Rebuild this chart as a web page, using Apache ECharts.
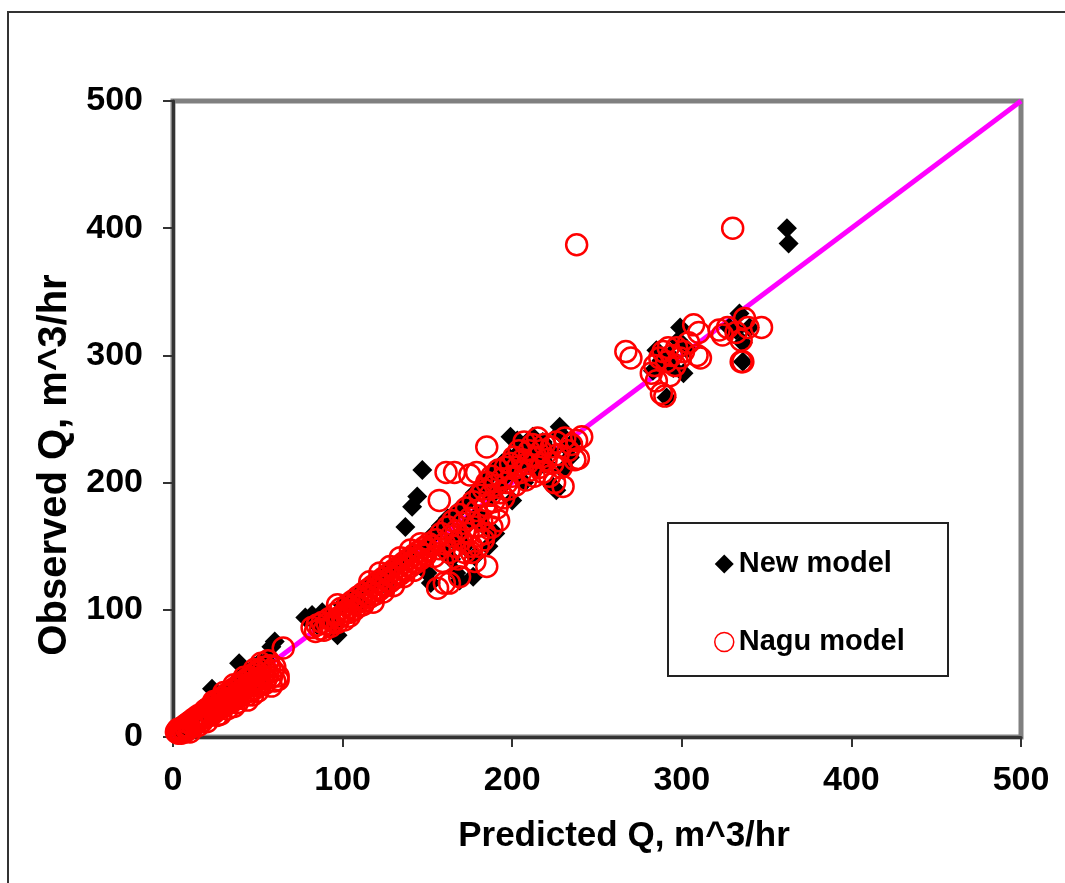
<!DOCTYPE html>
<html>
<head>
<meta charset="utf-8">
<title>Observed vs Predicted Q</title>
<script src="https://cdn.jsdelivr.net/npm/echarts@6/dist/echarts.min.js"></script>
<style>
    html, body { margin: 0; padding: 0; background: #fff; }
    #main { width: 1065px; height: 883px; }
</style>
</head>
<body>
<div id="main"></div>
<script>
// axis ticks
var axisTicks = [0, 100, 200, 300, 400, 500];

// perfect fit line (predicted = observed)
var fitLine = [[0, 0], [500, 500]];

// New model points [predicted, observed]
var newModelLow = [
    [3, 5], [5, 7], [7, 9], [9, 12], [11, 14], [13, 16], [15, 19], [17, 21], [19, 23], [21, 25],
    [23, 38], [24, 28], [26, 31], [28, 33], [30, 35], [32, 37], [34, 39], [36, 42], [38, 44], [39, 58],
    [40, 46], [42, 48], [44, 50], [46, 52], [48, 55], [50, 57], [52, 58], [55, 60], [58, 71], [60, 75],
    [10, 8], [20, 18], [30, 27], [40, 36], [50, 45]
];
var newModelMid = [
    [78, 94], [82, 96], [85, 88], [88, 98], [92, 90], [97, 80], [100, 104], [104, 108], [108, 112], [112, 116],
    [116, 120], [120, 124], [124, 128], [128, 132], [132, 136], [136, 140], [140, 144], [95, 86], [110, 104], [125, 120],
    [137, 165], [141, 181], [144, 189], [147, 210], [150, 129], [152, 121], [167, 129], [169, 123], [177, 126]
];
var newModelHigh = [
    [150, 150], [154, 160], [158, 166], [160, 145], [162, 172], [165, 155], [168, 178], [170, 160], [172, 150], [174, 185],
    [176, 170], [178, 192], [180, 175], [182, 198], [184, 165], [186, 204], [188, 190], [190, 210], [192, 195], [194, 215],
    [196, 205], [198, 220], [199, 236], [200, 186], [202, 212], [203, 233], [205, 225], [207, 200], [209, 218], [211, 228],
    [212, 236], [214, 210], [216, 222], [218, 232], [220, 215], [222, 225], [224, 197], [226, 194], [228, 239], [228, 244],
    [230, 210], [232, 228], [234, 220], [236, 232], [178, 142], [186, 150], [190, 160], [164, 140],
    [283, 288], [285, 304], [288, 296], [291, 267], [293, 300], [295, 290], [298, 312], [299, 322], [301, 286], [303, 305],
    [328, 322], [332, 320], [334, 333], [336, 310], [336, 295], [340, 322], [362, 400], [363, 388]
];

// Nagu model points [predicted, observed]
var naguModelLow = [
    [2, 4], [3, 3], [3, 6], [4, 4], [5, 3], [5, 7], [6, 5], [7, 4], [7, 9], [8, 6],
    [9, 8], [9, 11], [10, 7], [11, 10], [11, 13], [12, 9], [13, 12], [13, 15], [14, 11], [15, 13],
    [15, 17], [16, 14], [17, 12], [17, 18], [18, 15], [19, 17], [19, 21], [20, 16], [21, 19], [21, 23],
    [22, 18], [23, 21], [23, 25], [24, 19], [25, 22], [25, 27], [26, 21], [27, 24], [27, 29], [28, 23],
    [29, 26], [29, 31], [30, 24], [31, 28], [31, 33], [32, 26], [33, 30], [33, 35], [34, 28], [35, 31],
    [35, 37], [36, 29], [37, 33], [37, 39], [38, 31], [39, 35], [39, 41], [40, 33], [41, 37], [41, 43],
    [42, 34], [43, 39], [43, 45], [44, 29], [45, 40], [45, 47], [46, 36], [47, 42], [47, 49], [48, 38],
    [49, 44], [49, 51], [50, 40], [51, 46], [51, 53], [52, 42], [53, 48], [54, 55], [55, 46], [56, 50],
    [57, 56], [58, 47], [59, 52], [60, 44], [62, 48], [65, 70],
    [10, 4], [15, 9], [20, 12], [26, 17], [28, 18], [32, 22], [36, 24], [38, 27], [44, 33], [47, 33],
    [50, 36], [54, 42], [58, 40], [62, 45], [24, 28], [30, 35], [36, 41], [42, 47], [48, 53], [52, 58],
    [56, 60], [60, 55]
];
var naguModelMid = [
    [82, 86], [84, 83], [85, 88], [87, 85], [88, 90], [89, 84], [91, 89], [92, 93], [93, 87], [95, 91],
    [96, 97], [97, 90], [98, 94], [99, 101], [100, 96], [101, 92], [102, 99], [103, 104], [104, 98], [105, 102],
    [106, 107], [107, 100], [108, 105], [109, 110], [110, 103], [111, 108], [112, 113], [113, 107], [114, 111], [115, 116],
    [116, 110], [117, 114], [118, 119], [119, 112], [120, 117], [121, 122], [122, 116], [123, 120], [124, 125], [125, 119],
    [126, 123], [127, 128], [128, 122], [129, 126], [130, 131], [131, 125], [132, 129], [133, 134], [134, 128], [135, 132],
    [136, 137], [137, 131], [138, 135], [139, 140], [140, 134], [141, 138], [142, 143], [143, 137], [144, 141], [145, 146],
    [146, 140], [147, 144], [148, 149], [149, 143], [150, 147], [151, 152], [97, 104], [104, 95], [112, 104], [118, 106],
    [124, 114], [130, 119], [136, 126], [142, 131], [116, 122], [122, 129], [128, 134], [134, 141], [140, 147], [146, 152]
];
var naguModelHigh = [
    [152, 150], [154, 142], [155, 155], [156, 117], [157, 148], [157, 186], [158, 160], [159, 138], [160, 152], [160, 121],
    [161, 208], [162, 165], [163, 145], [163, 121], [164, 158], [165, 170], [166, 150], [166, 208], [167, 162], [168, 140],
    [169, 126], [169, 175], [170, 155], [171, 168], [172, 145], [173, 180], [174, 160], [175, 172], [175, 206], [176, 150],
    [177, 185], [178, 165], [178, 138], [179, 208], [179, 178], [180, 158], [181, 190], [182, 170], [183, 155], [183, 195],
    [184, 182], [185, 134], [185, 228], [185, 200], [186, 175], [187, 190], [188, 205], [189, 185], [190, 198], [191, 180],
    [192, 210], [193, 192], [194, 203], [195, 188], [196, 212], [197, 200], [198, 195], [199, 215], [200, 205], [201, 220],
    [202, 198], [203, 212], [204, 225], [205, 208], [206, 218], [207, 232], [208, 202], [209, 215], [210, 225], [211, 210],
    [212, 230], [213, 205], [214, 220], [215, 235], [216, 212], [217, 225], [218, 208], [219, 230], [220, 218], [222, 205],
    [223, 228], [224, 215], [225, 200], [226, 232], [227, 222], [229, 212], [230, 197], [231, 235], [233, 225], [235, 230],
    [237, 218], [238, 233], [239, 219], [241, 236], [176, 145], [180, 150], [184, 160], [188, 165], [192, 170],
    [238, 387], [330, 400], [267, 303], [270, 298], [282, 286], [284, 292], [285, 280], [287, 298], [288, 270], [289, 303],
    [290, 268], [291, 295], [292, 306], [293, 284], [294, 300], [296, 292], [297, 306], [299, 298], [301, 303], [304, 310],
    [307, 324], [309, 300], [310, 318], [311, 298], [322, 320], [324, 316], [327, 322], [332, 318], [335, 312], [335, 295],
    [336, 295], [337, 329], [339, 322], [347, 322]
];

var newModel = newModelLow.concat(newModelMid, newModelHigh);
var naguModel = naguModelLow.concat(naguModelMid, naguModelHigh);

var font = '"Liberation Sans", Arial, sans-serif';

var chart = echarts.init(document.getElementById('main'));

var option = {
    animation: false,
    backgroundColor: '#fff',
    textStyle: { fontFamily: font },
    grid: {
        left: 173, right: 44, top: 101, bottom: 146,
        show: true,
        borderColor: '#808080',
        borderWidth: 5
    },
    graphic: [
        {   // outer frame
            type: 'rect', z: 0,
            shape: { x: 8, y: 12, width: 1200, height: 1000 },
            style: { fill: 'none', stroke: '#333', lineWidth: 2 }
        },
        {   // legend box
            type: 'rect', z: 3,
            shape: { x: 668, y: 523, width: 280, height: 153 },
            style: { fill: '#fff', stroke: '#222', lineWidth: 2 }
        }
    ],
    legend: {
        orient: 'vertical',
        left: 709, top: 544,
        itemWidth: 19, itemHeight: 19,
        itemGap: 48,
        z: 5,
        textStyle: { fontSize: 29, fontWeight: 'bold', color: '#000', lineHeight: 30, fontFamily: font },
        data: [
            { name: 'New model', icon: 'diamond' },
            { name: 'Nagu model', icon: 'circle', itemStyle: { color: '#fff', borderColor: '#ff0000', borderWidth: 1.5 } }
        ]
    },
    xAxis: {
        type: 'value',
        min: axisTicks[0], max: axisTicks[axisTicks.length - 1], interval: 100,
        name: 'Predicted Q, m^3/hr',
        nameLocation: 'middle',
        nameGap: 82,
        nameTextStyle: { fontSize: 35, fontWeight: 'bold', color: '#000', fontFamily: font, padding: [0, 0, 0, 54] },
        axisLine: { show: true, onZero: false, lineStyle: { color: '#333', width: 3 } },
        axisTick: { show: true, length: 10, lineStyle: { color: '#333', width: 2 } },
        axisLabel: { fontSize: 34, fontWeight: 'bold', color: '#000', margin: 27, fontFamily: font },
        splitLine: { show: false }
    },
    yAxis: {
        type: 'value',
        min: axisTicks[0], max: axisTicks[axisTicks.length - 1], interval: 100,
        name: 'Observed Q, m^3/hr',
        nameLocation: 'middle',
        nameGap: 92,
        nameTextStyle: { fontSize: 40, fontWeight: 'bold', color: '#000', fontFamily: font, padding: [0, 92, 0, 0] },
        axisLine: { show: true, onZero: false, lineStyle: { color: '#333', width: 3 } },
        axisTick: { show: true, length: 10, lineStyle: { color: '#333', width: 2 } },
        axisLabel: { fontSize: 34, fontWeight: 'bold', color: '#000', margin: 30, fontFamily: font },
        splitLine: { show: false }
    },
    series: [
        {
            name: '1:1',
            type: 'line',
            data: fitLine,
            symbol: 'none',
            silent: true,
            z: 1,
            lineStyle: { color: '#ff00ff', width: 5 }
        },
        {
            name: 'New model',
            type: 'scatter',
            data: newModel,
            symbol: 'diamond',
            symbolSize: 20,
            z: 2,
            itemStyle: { color: '#000', opacity: 1 }
        },
        {
            name: 'Nagu model',
            type: 'scatter',
            data: naguModel,
            symbol: 'circle',
            symbolSize: 21,
            z: 3,
            itemStyle: { color: 'rgba(0,0,0,0)', borderColor: '#ff0000', borderWidth: 2.5, opacity: 1 }
        }
    ]
};

chart.setOption(option);
</script>
</body>
</html>
